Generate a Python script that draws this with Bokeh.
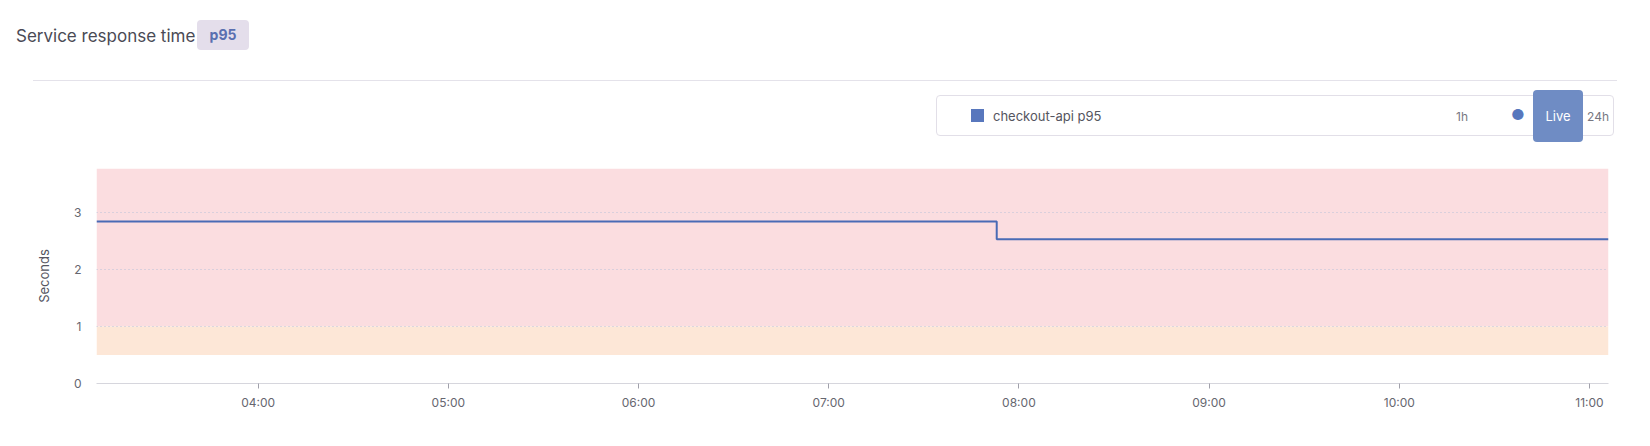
import pandas as pd
from bokeh.embed import file_html
from bokeh.layouts import column
from bokeh.models import BoxAnnotation, DatetimeTickFormatter, Div, FixedTicker, Range1d
from bokeh.plotting import figure
from bokeh.resources import INLINE

# data
day = "2024-05-14"
range_start = "03:09"
range_end = "11:06"
tick_times = ["04:00", "05:00", "06:00", "07:00", "08:00", "09:00", "10:00", "11:00"]
step_times = ["03:09", "07:53", "11:06"]
step_values = [2.84, 2.53, 2.53]
y_ticks = [0, 1, 2, 3]
warn_low, warn_high = 0.5, 1.0

title = "Service response time"
badge = "p95"
series_name = "checkout-api p95"

FONT = "Inter"
SERIES = "#4a6bb5"

# header drawn as html: title, divider, legend strip
header_html = f"""
<div style="position:relative;width:1646px;height:160px;font-family:Inter,sans-serif;">
  <div style="position:absolute;left:16px;top:24px;font-size:17px;color:#4a4a55;white-space:nowrap;">{title}</div>
  <div style="position:absolute;left:197px;top:20px;width:52px;height:30px;line-height:30px;
              background:#e4deeb;border-radius:4px;text-align:center;font-size:14px;
              font-weight:bold;color:#5a6fb0;">{badge}</div>
  <div style="position:absolute;left:33px;top:80px;width:1584px;height:1px;background:#e4e2ea;"></div>
  <div style="position:absolute;left:936px;top:95px;width:678px;height:41px;
              border:1px solid #e2dfe8;border-radius:4px;"></div>
  <div style="position:absolute;left:971px;top:109px;width:13px;height:13px;background:#5877bd;"></div>
  <div style="position:absolute;left:993px;top:107px;font-size:13px;color:#555560;">{series_name}</div>
  <div style="position:absolute;left:1456px;top:108px;font-size:12px;color:#777780;">1h</div>
  <div style="position:absolute;left:1511px;top:104px;font-size:15px;color:#5877bd;">&#9679;</div>
  <div style="position:absolute;left:1533px;top:90px;width:50px;height:52px;line-height:52px;
              background:#6f8cc4;border-radius:4px;text-align:center;font-size:13px;color:white;">Live</div>
  <div style="position:absolute;left:1587px;top:108px;font-size:12px;color:#777780;">24h</div>
</div>
"""
head = Div(text=header_html, width=1646, height=160, margin=(0, 0, 0, 0))

# main chart
p = figure(width=1646, height=284, x_axis_type="datetime",
           x_range=Range1d(pd.Timestamp(f"{day} {range_start}"), pd.Timestamp(f"{day} {range_end}")),
           y_range=Range1d(0, 3.77),
           toolbar_location=None, output_backend="svg",
           min_border_left=96, min_border_right=38, min_border_top=8, min_border_bottom=61,
           margin=(0, 0, 0, 0))
p.outline_line_color = None

p.add_layout(BoxAnnotation(bottom=warn_high, fill_color="#fbdde0", fill_alpha=1, line_color=None, level="underlay"))
p.add_layout(BoxAnnotation(bottom=warn_low, top=warn_high, fill_color="#fde7d7", fill_alpha=1, line_color=None, level="underlay"))

p.step([pd.Timestamp(f"{day} {t}") for t in step_times], step_values, mode="after",
       line_color=SERIES, line_width=2)

p.xgrid.grid_line_color = None
p.ygrid.grid_line_color = "#b9c0d8"
p.ygrid.grid_line_dash = "1 3"
p.ygrid.level = "glyph"

p.xaxis.ticker = FixedTicker(ticks=[pd.Timestamp(f"{day} {t}").value / 1e6 for t in tick_times])
p.xaxis.formatter = DatetimeTickFormatter(hours="%H:%M", minutes="%H:%M", hourmin="%H:%M")
p.xaxis.axis_line_color = "#d6d6dd"
p.xaxis.major_tick_line_color = "#a0a0aa"
p.xaxis.major_tick_in = 0
p.xaxis.major_tick_out = 5
p.xaxis.minor_tick_line_color = None
p.xaxis.major_label_standoff = 6

p.yaxis.ticker = FixedTicker(ticks=y_ticks)
p.yaxis.axis_line_color = None
p.yaxis.major_tick_line_color = None
p.yaxis.minor_tick_line_color = None
p.yaxis.major_label_standoff = 9
p.yaxis.axis_label = "Seconds"
p.yaxis.axis_label_standoff = 19
p.yaxis.axis_label_text_font_style = "normal"

for ax in (p.xaxis[0], p.yaxis[0]):
    ax.major_label_text_font = FONT
    ax.major_label_text_font_size = "12px"
    ax.major_label_text_color = "#66666f"
    ax.axis_label_text_font = FONT
    ax.axis_label_text_font_size = "13px"
    ax.axis_label_text_color = "#55555f"

layout = column(head, p, spacing=0)
open("out.html", "w").write(file_html(layout, INLINE))
